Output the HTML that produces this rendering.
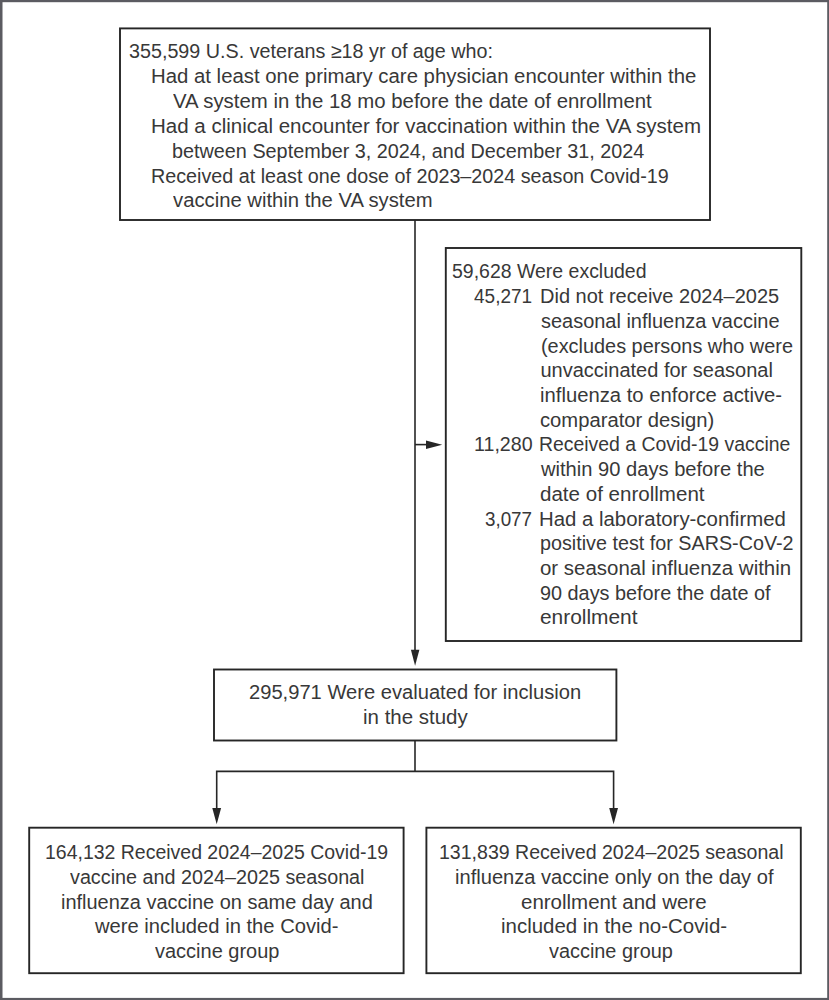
<!DOCTYPE html>
<html><head><meta charset="utf-8"><style>
html,body{margin:0;padding:0;background:#fff;}
body{width:829px;height:1000px;position:relative;overflow:hidden;}
.t{position:absolute;font-family:"Liberation Sans",sans-serif;font-size:20.0px;line-height:20px;white-space:pre;color:#383838;transform-origin:0 0;}
svg{position:absolute;left:0;top:0;}
</style></head><body>
<svg width="829" height="1000" viewBox="0 0 829 1000">
<g fill="#5b5b61"><rect x="0" y="0" width="829" height="2.2"/><rect x="0" y="0" width="2.5" height="1000"/><rect x="827.2" y="0" width="1.8" height="1000"/><rect x="0" y="997.9" width="829" height="2.1"/></g>
<g fill="none" stroke="#262626" stroke-width="1.9">
<rect x="120" y="28.4" width="590" height="191.6"/>
<rect x="445.8" y="248" width="355.5" height="393"/>
<rect x="214" y="669.5" width="402.4" height="71"/>
<rect x="29.2" y="827.7" width="374.4" height="145.5"/>
<rect x="426.4" y="827.7" width="374.4" height="145.5"/>
</g>
<g fill="none" stroke="#262626" stroke-width="1.6" stroke-linejoin="miter" stroke-linecap="butt">
<path d="M415 220 V652"/>
<path d="M415 444.6 H428"/>
<path d="M415 740.5 V771.4"/>
<path d="M216.7 810 V771.4 H613.6 V810"/>
</g>
<g fill="#262626">
<polygon points="410.9,649.7 419.4,649.7 415.1,665.8"/>
<polygon points="426,440.4 426,449 442.2,444.7"/>
<polygon points="212.3,808 221.1,808 216.7,824.2"/>
<polygon points="609.2,808 618,808 613.6,824.2"/>
</g>
</svg>

<div class="t" style="left:129.01px;top:40.80px;transform:scaleX(0.9863)">355,599 U.S. veterans ≥18 yr of age who:</div>
<div class="t" style="left:150.56px;top:66.33px;transform:scaleX(1.0176)">Had at least one primary care physician encounter within the</div>
<div class="t" style="left:172.60px;top:91.16px;transform:scaleX(1.0189)">VA system in the 18 mo before the date of enrollment</div>
<div class="t" style="left:150.55px;top:115.99px;transform:scaleX(1.0251)">Had a clinical encounter for vaccination within the VA system</div>
<div class="t" style="left:171.61px;top:140.82px;transform:scaleX(0.9903)">between September 3, 2024, and December 31, 2024</div>
<div class="t" style="left:150.73px;top:165.65px;transform:scaleX(0.9866)">Received at least one dose of 2023–2024 season Covid-19</div>
<div class="t" style="left:173.30px;top:190.48px;transform:scaleX(1.0125)">vaccine within the VA system</div>
<div class="t" style="left:452.23px;top:260.80px;transform:scaleX(0.9737)">59,628 Were excluded</div>
<div class="t" style="left:474.00px;top:286.21px;transform:scaleX(0.9500)">45,271</div>
<div class="t" style="left:539.50px;top:286.21px;transform:scaleX(1.0004)">Did not receive 2024–2025</div>
<div class="t" style="left:540.50px;top:310.92px;transform:scaleX(0.9979)">seasonal influenza vaccine</div>
<div class="t" style="left:540.51px;top:335.63px;transform:scaleX(0.9940)">(excludes persons who were</div>
<div class="t" style="left:540.50px;top:360.34px;transform:scaleX(1.0000)">unvaccinated for seasonal</div>
<div class="t" style="left:540.49px;top:385.05px;transform:scaleX(1.0127)">influenza to enforce active-</div>
<div class="t" style="left:540.49px;top:409.76px;transform:scaleX(1.0106)">comparator design)</div>
<div class="t" style="left:474.42px;top:434.47px;transform:scaleX(0.9828)">11,280</div>
<div class="t" style="left:538.66px;top:434.47px;transform:scaleX(0.9703)">Received a Covid-19 vaccine</div>
<div class="t" style="left:540.60px;top:459.18px;transform:scaleX(1.0063)">within 90 days before the</div>
<div class="t" style="left:539.57px;top:483.89px;transform:scaleX(1.0277)">date of enrollment</div>
<div class="t" style="left:484.76px;top:508.60px;transform:scaleX(0.9396)">3,077</div>
<div class="t" style="left:538.56px;top:508.60px;transform:scaleX(1.0184)">Had a laboratory-confirmed</div>
<div class="t" style="left:539.61px;top:533.31px;transform:scaleX(0.9875)">positive test for SARS-CoV-2</div>
<div class="t" style="left:539.58px;top:558.02px;transform:scaleX(1.0221)">or seasonal influenza within</div>
<div class="t" style="left:539.61px;top:582.73px;transform:scaleX(0.9918)">90 days before the date of</div>
<div class="t" style="left:539.86px;top:607.44px;transform:scaleX(1.0446)">enrollment</div>
<div class="t" style="left:248.69px;top:682.20px;transform:scaleX(1.0070)">295,971 Were evaluated for inclusion</div>
<div class="t" style="left:362.58px;top:706.90px;transform:scaleX(1.0238)">in the study</div>
<div class="t" style="left:45.33px;top:842.00px;transform:scaleX(0.9735)">164,132 Received 2024–2025 Covid-19</div>
<div class="t" style="left:69.50px;top:866.83px;transform:scaleX(0.9882)">vaccine and 2024–2025 seasonal</div>
<div class="t" style="left:60.80px;top:891.66px;transform:scaleX(0.9981)">influenza vaccine on same day and</div>
<div class="t" style="left:95.20px;top:916.49px;transform:scaleX(1.0092)">were included in the Covid-</div>
<div class="t" style="left:154.50px;top:941.32px;transform:scaleX(0.9992)">vaccine group</div>
<div class="t" style="left:438.77px;top:842.00px;transform:scaleX(0.9773)">131,839 Received 2024–2025 seasonal</div>
<div class="t" style="left:454.79px;top:866.83px;transform:scaleX(1.0051)">influenza vaccine only on the day of</div>
<div class="t" style="left:521.18px;top:891.66px;transform:scaleX(1.0240)">enrollment and were</div>
<div class="t" style="left:500.58px;top:916.49px;transform:scaleX(1.0219)">included in the no-Covid-</div>
<div class="t" style="left:549.40px;top:941.32px;transform:scaleX(0.9944)">vaccine group</div>
</body></html>
